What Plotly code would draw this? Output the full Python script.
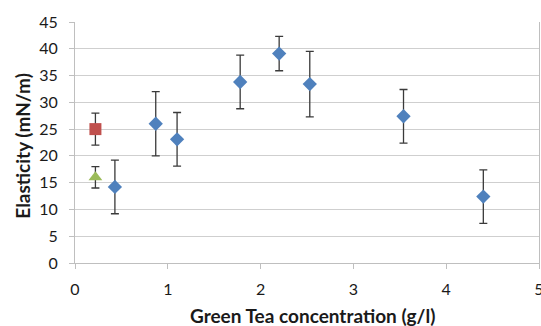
import plotly.graph_objects as go

# Green tea series (blue diamonds)
tea_x = [0.43, 0.87, 1.10, 1.78, 2.20, 2.53, 3.54, 4.40]
tea_y = [14.2, 26.0, 23.1, 33.8, 39.1, 33.4, 27.4, 12.4]
tea_err = [5.0, 6.0, 5.0, 5.0, 3.2, 6.1, 5.0, 5.0]

# Reference points
red_x = [0.22]
red_y = [25.0]
red_err = [3.0]

green_x = [0.22]
green_y = [16.0]
green_err = [2.0]

x_ticks = [0, 1, 2, 3, 4, 5]
y_ticks = [0, 5, 10, 15, 20, 25, 30, 35, 40, 45]

x_title = "Green Tea concentration (g/l)"
y_title = "Elasticity (mN/m)"

FONT = "Lato"
err_style = dict(type="data", visible=True, color="#3a3a3a", thickness=1.3, width=4)

fig = go.Figure()
fig.add_trace(go.Scatter(
    x=red_x, y=red_y, mode="markers",
    marker=dict(symbol="square", size=12, color="#C0504D"),
    error_y=dict(array=red_err, **err_style), showlegend=False))
fig.add_trace(go.Scatter(
    x=green_x, y=green_y, mode="markers",
    marker=dict(symbol="triangle-up", size=12, color="#9BBB59"),
    error_y=dict(array=green_err, **err_style), showlegend=False))
fig.add_trace(go.Scatter(
    x=tea_x, y=tea_y, mode="markers",
    marker=dict(symbol="diamond", size=11, color="#4F81BD"),
    error_y=dict(array=tea_err, **err_style), showlegend=False))

title_font = dict(size=19, family=FONT, color="#1a1a1a")

fig.update_layout(
    width=541, height=326,
    margin=dict(l=75, r=2, t=22, b=63),
    paper_bgcolor="white", plot_bgcolor="white",
    font=dict(family=FONT, color="#000000"),
    xaxis=dict(
        range=[0, 5], tickvals=x_ticks, ticktext=[str(v) for v in x_ticks],
        showgrid=False, zeroline=False, automargin=False,
        showline=True, linecolor="#bfbfbf", linewidth=1.2,
        ticks="outside", ticklen=5, tickcolor="#bfbfbf",
        tickfont=dict(size=16, family=FONT, color="#1a1a1a"),
        ticklabelstandoff=7, ticklabeloverflow="allow",
    ),
    yaxis=dict(
        range=[0, 45], tickvals=y_ticks, ticktext=[str(v) for v in y_ticks],
        showgrid=True, gridcolor="#cfcfcf", gridwidth=1.2, zeroline=False,
        automargin=False,
        showline=True, linecolor="#bfbfbf", linewidth=1.2, mirror=True,
        ticks="outside", ticklen=5, tickcolor="#bfbfbf",
        tickfont=dict(size=16, family=FONT, color="#1a1a1a"),
        ticklabelstandoff=8,
    ),
    annotations=[
        dict(text="<b>" + x_title + "</b>", xref="paper", yref="paper",
             x=0.511, y=-0.217, xanchor="center", yanchor="middle",
             showarrow=False, font=title_font),
        dict(text="<b>" + y_title + "</b>", xref="paper", yref="paper",
             x=-0.115, y=0.485, xanchor="center", yanchor="middle",
             textangle=-90, showarrow=False, font=title_font),
    ],
)

fig.write_html("out.html")
